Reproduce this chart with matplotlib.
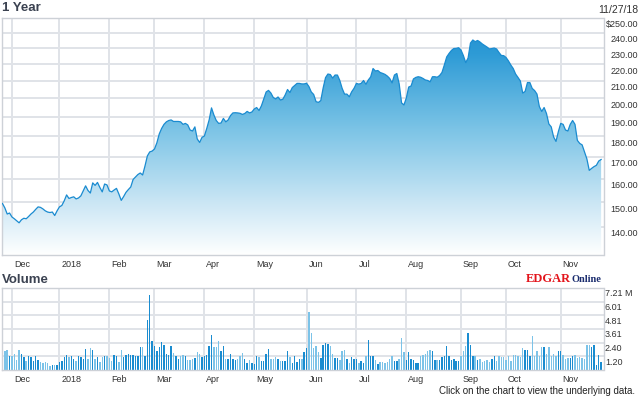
import numpy as np
import pandas as pd
import matplotlib
matplotlib.use("Agg")
import matplotlib.pyplot as plt
import matplotlib.transforms as mtransforms
from matplotlib.colors import LinearSegmentedColormap

# Trading days, 11/27/17 - 11/27/18
holidays = ["2017-12-25", "2018-01-01", "2018-01-15", "2018-02-19", "2018-03-30",
            "2018-05-28", "2018-07-04", "2018-09-03", "2018-11-22"]
dates = pd.bdate_range("2017-11-27", "2018-11-27", freq="C", holidays=holidays)

# Closing price ($)
prices = [
    149.4, 147.6, 145.1, 145.5, 143.9, 143.2, 142.4, 141.6, 142.8, 143.4,
    143.2, 144.1, 145.1, 145.9, 147.0, 148.0, 147.8, 147.2, 146.4, 145.9,
    145.7, 145.9, 144.5, 146.4, 148.0, 148.6, 150.5, 153.0, 151.5, 151.9,
    152.2, 151.3, 151.7, 152.6, 154.7, 156.9, 154.9, 153.8, 158.2, 157.1,
    158.4, 156.2, 154.3, 157.7, 157.3, 154.7, 154.3, 155.1, 155.8, 153.4,
    150.7, 152.3, 154.1, 155.3, 156.4, 159.7, 160.8, 161.9, 162.6, 161.7,
    165.8, 170.5, 172.4, 172.8, 173.8, 176.8, 181.2, 184.0, 186.1, 187.4,
    188.1, 188.4, 187.6, 187.6, 187.6, 187.4, 186.1, 186.6, 185.8, 183.2,
    182.7, 184.8, 178.7, 177.0, 179.5, 180.2, 184.0, 188.4, 194.8, 191.0,
    188.1, 186.6, 186.8, 189.2, 187.4, 188.4, 190.7, 192.1, 192.2, 192.1,
    191.9, 191.3, 191.8, 192.9, 192.1, 192.6, 194.2, 195.0, 193.4, 195.9,
    199.7, 203.6, 204.5, 203.0, 200.5, 199.7, 200.8, 199.1, 199.5, 201.9,
    205.0, 203.3, 206.1, 207.3, 208.5, 208.5, 208.2, 208.2, 208.6, 206.7,
    203.6, 202.2, 198.2, 197.8, 198.8, 205.9, 211.9, 214.0, 213.7, 211.6,
    213.4, 213.4, 210.2, 205.6, 202.4, 202.4, 200.9, 203.7, 205.7, 208.5,
    208.1, 208.5, 210.2, 208.0, 210.5, 212.3, 217.3, 215.8, 216.1, 214.9,
    214.4, 213.8, 212.8, 211.4, 208.8, 213.4, 214.3, 208.2, 197.5, 196.4,
    200.2, 206.4, 207.0, 211.1, 212.0, 212.4, 212.1, 211.4, 210.5, 210.2,
    209.4, 212.4, 212.4, 212.1, 213.1, 214.9, 219.4, 224.4, 226.6, 228.5,
    229.7, 229.8, 230.2, 228.8, 225.3, 220.9, 223.7, 233.2, 235.2, 234.1,
    234.9, 233.9, 232.6, 231.6, 230.6, 229.4, 229.7, 230.0, 229.4, 227.2,
    225.3, 225.2, 224.0, 221.9, 219.4, 217.3, 214.0, 212.0, 209.9, 203.0,
    203.9, 209.0, 209.0, 205.6, 204.4, 202.4, 195.5, 192.9, 195.0, 191.8,
    186.3, 184.8, 179.7, 177.5, 182.4, 186.6, 186.1, 183.2, 182.7, 186.1,
    188.1, 186.1, 178.0, 176.5, 175.8, 172.4, 169.1, 163.8, 164.7, 165.5,
    166.1, 168.1, 168.8]

# Daily volume (millions of shares)
volumes = [
    1.54, 1.63, 1.72, 1.25, 1.19, 1.42, 0.89, 1.72, 1.42, 1.10,
    0.83, 1.19, 1.10, 0.83, 1.25, 0.89, 0.74, 0.65, 0.71, 0.59,
    0.36, 0.45, 0.45, 0.45, 0.74, 0.83, 1.13, 1.34, 1.10, 1.19,
    0.95, 0.83, 1.25, 1.10, 0.95, 1.84, 0.95, 1.93, 1.78, 1.01,
    1.10, 0.74, 1.10, 1.25, 1.19, 1.04, 0.83, 1.34, 1.19, 0.74,
    1.72, 1.10, 1.34, 1.42, 1.34, 1.34, 1.25, 1.19, 2.02, 2.02,
    1.19, 4.36, 6.59, 2.52, 2.08, 1.63, 2.02, 2.43, 2.23, 1.42,
    1.34, 2.08, 1.48, 1.19, 0.95, 1.25, 1.34, 1.19, 0.89, 0.89,
    0.95, 1.04, 1.54, 1.42, 1.10, 1.25, 1.34, 2.14, 3.06, 1.99,
    1.99, 2.52, 1.63, 2.14, 0.98, 0.98, 1.42, 0.98, 0.89, 0.95,
    1.19, 1.48, 0.95, 0.59, 0.89, 0.59, 0.53, 1.25, 1.10, 0.83,
    0.80, 1.42, 1.84, 0.95, 0.95, 1.10, 0.95, 0.83, 0.83, 0.80,
    1.63, 1.13, 0.65, 1.19, 0.74, 0.95, 0.95, 1.54, 1.93, 5.13,
    3.26, 1.93, 2.08, 1.54,
    1.04, 2.23, 2.37, 2.31, 2.14, 1.42, 1.04, 1.04, 0.89, 1.63,
    1.72, 0.95, 0.65, 1.10, 0.95, 0.95, 0.65, 0.83, 0.59, 1.19,
    2.67, 1.25, 1.25, 0.89, 0.53, 0.74, 0.74, 0.59, 0.74, 1.01,
    1.25, 0.83, 0.83, 0.95, 2.82, 1.54, 0.89, 1.54, 0.95, 0.89,
    0.65, 0.65, 1.25, 1.34, 1.39, 1.63, 1.78, 1.63, 0.89, 0.89,
    0.89, 1.13, 1.25, 2.14, 1.19, 0.89, 0.95, 0.83, 0.83, 1.19,
    1.63, 2.08, 3.26, 2.23, 1.19, 1.19, 0.89, 0.95, 0.74, 0.83,
    0.89, 0.74, 0.95, 1.19, 0.83, 1.19, 1.10, 1.10, 0.89, 1.19,
    0.83, 1.34, 1.34, 1.19, 1.13, 1.93, 1.72, 1.72, 1.19, 2.97,
    1.19, 1.63, 1.19, 2.02, 2.02, 1.42, 2.02, 1.19, 1.42, 1.19,
    1.63, 1.63, 1.34, 0.95, 1.04, 1.04, 1.19, 1.34, 1.04, 1.10,
    1.04, 0.95, 2.23, 2.23, 2.02, 2.23, 0.45, 1.34, 0.74]

month_labels = ["Dec", "2018", "Feb", "Mar", "Apr", "May", "Jun",
                "Jul", "Aug", "Sep", "Oct", "Nov"]
price_ticks = [140, 150, 160, 170, 180, 190, 200, 210, 220, 230, 240, 250]
price_labels = ["140.00", "150.00", "160.00", "170.00", "180.00", "190.00",
                "200.00", "210.00", "220.00", "230.00", "240.00", "$250.00"]
vol_ticks = [1.20, 2.40, 3.61, 4.81, 6.01, 7.21]
vol_labels = ["1.20", "2.40", "3.61", "4.81", "6.01", "7.21 M"]

x = np.arange(len(dates))
month_pos = [i for i in range(1, len(dates)) if dates[i].month != dates[i - 1].month]

plt.rcParams["font.family"] = ["Liberation Sans", "DejaVu Sans"]
grid_c = "#e0e3e8"
spine_c = "#cdd1d7"
text_c = "#333333"

W, H = 640, 398
fig = plt.figure(figsize=(W / 100, H / 100), dpi=100)


def box(l, t, r, b):
    return [l / W, 1 - b / H, (r - l) / W, (b - t) / H]


def shift(dx, dy):
    return mtransforms.ScaledTranslation(dx / 100, dy / 100, fig.dpi_scale_trans)


# ---- price panel
ax = fig.add_axes(box(1.5, 18, 603.5, 255))
ax.set_yscale("log")
ax.set_xlim(-0.4, 253.0)
ax.set_ylim(129.5, 250)
ax.set_autoscale_on(False)
ax.set_yticks(price_ticks)
ax.yaxis.set_minor_locator(matplotlib.ticker.NullLocator())
ax.set_yticklabels(price_labels)
ax.yaxis.tick_right()
ax.set_xticks(month_pos)
ax.set_xticklabels(month_labels)
ax.grid(True, color=grid_c, lw=1.4)
ax.set_axisbelow(True)

fill = ax.fill_between(x, prices, 100, color="none", lw=0)
cmap = LinearSegmentedColormap.from_list(
    "px", [(0, "#1d8dcf"), (0.15, "#2e9bd6"), (0.47, "#7cc4e6"),
           (0.77, "#c8e5f4"), (1.0, "#ffffff")])
grad = np.linspace(0, 1, 256).reshape(-1, 1)
im = ax.imshow(grad, cmap=cmap, aspect="auto", extent=(0, 1, 0, 1),
               transform=ax.transAxes, origin="upper", zorder=1)
im.set_clip_path(fill.get_paths()[0], transform=ax.transData)
ax.plot(x, prices, color="#1a8bd0", lw=0.9, zorder=3)
ax.set_xlim(-0.4, 253.0)
ax.set_ylim(129.5, 250)

# ---- volume panel
axv = fig.add_axes(box(1.5, 288, 603.5, 370))
chg = np.diff(np.array(prices), prepend=prices[0])
vcol = ["#1a8cd0" if c >= 0 else "#7cc3e8" for c in chg]
axv.bar(x, volumes, width=0.6, color=vcol, zorder=2)
axv.set_xlim(-0.4, 253.0)
axv.set_ylim(0, 7.21)
axv.set_yticks(vol_ticks)
axv.set_yticklabels(vol_labels)
axv.yaxis.tick_right()
axv.set_xticks(month_pos)
axv.set_xticklabels(month_labels)
axv.grid(True, color=grid_c, lw=1.4)
axv.set_axisbelow(True)

for a in (ax, axv):
    for s in a.spines.values():
        s.set_color(spine_c)
        s.set_linewidth(1.0)
    a.tick_params(length=0, labelsize=6.5, labelcolor=text_c)
    a.tick_params(axis="x", pad=3.6)
    for lab in a.get_xticklabels():
        lab.set_ha("left")
        lab.set_transform(lab.get_transform() + shift(2, 0))

ax.tick_params(axis="y", pad=24.8)
for lab in ax.yaxis.get_majorticklabels():
    lab.set_ha("right")
    lab.set_transform(lab.get_transform() + shift(0, -6))
axv.tick_params(axis="y", pad=1.0)
for lab in axv.yaxis.get_majorticklabels():
    lab.set_transform(lab.get_transform() + shift(0, -5))

# ---- titles and captions
fig.text(2 / W, 1 - 8 / H, "1 Year", fontsize=9.5, fontweight="bold",
         color="#3b4251", va="center", ha="left")
fig.text(2 / W, 1 - 280 / H, "Volume", fontsize=9.5, fontweight="bold",
         color="#3b4251", va="center", ha="left")
fig.text(638 / W, 1 - 10 / H, "11/27/18", fontsize=7.5, color=text_c,
         va="center", ha="right")
fig.text(526 / W, 1 - 282 / H, "EDGAR", fontsize=9, fontweight="bold",
         family="Liberation Serif", color="#e3141b", va="baseline", ha="left")
fig.text(571 / W, 1 - 282 / H, "Online", fontsize=7.5, fontweight="bold",
         family="Liberation Serif", color="#1a2c6e", va="baseline", ha="left")
fig.text(635 / W, 1 - 391 / H, "Click on the chart to view the underlying data.",
         fontsize=7, color="#222222", va="center", ha="right")

fig.savefig("out.png", dpi=100)
